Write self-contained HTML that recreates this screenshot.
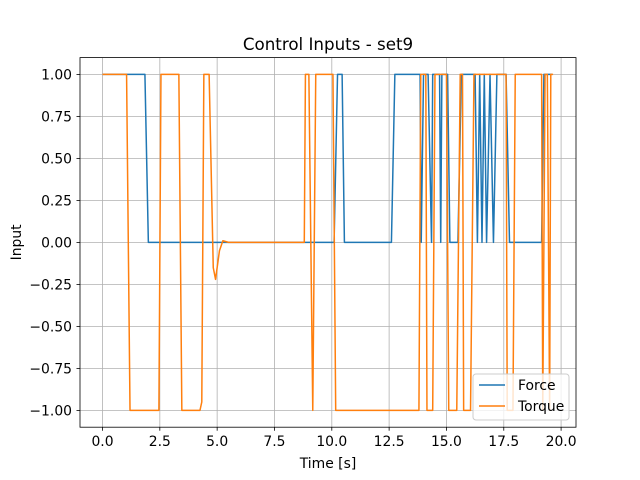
<!DOCTYPE html>
<html><head><meta charset="utf-8"><style>
body{margin:0;background:#fff;}
svg{display:block;font-family:"DejaVu Sans","Liberation Sans",sans-serif;}
</style></head><body>
<svg id="chart" width="640" height="480" xmlns="http://www.w3.org/2000/svg">
<rect width="640" height="480" fill="#fff"/>
<text x="328" y="50" text-anchor="middle" font-size="16.7">Control Inputs - set9</text>
<g id="grid"></g>
<g id="series"></g>
<rect x="80" y="57.6" width="496" height="369.6" fill="none" stroke="#000" stroke-width="0.8"/>
<g id="ticks"></g>
<text x="328" y="468" text-anchor="middle" font-size="13.9">Time [s]</text>
<text transform="translate(21,242.4) rotate(-90)" text-anchor="middle" font-size="13.9">Input</text>
<g>
<rect x="473" y="374" width="96" height="46" rx="3" fill="#fff" fill-opacity="0.8" stroke="#ccc"/>
<line x1="479" y1="385" x2="505" y2="385" stroke="#1f77b4" stroke-width="1.5"/>
<text x="518" y="390" font-size="13.9">Force</text>
<line x1="479" y1="406" x2="505" y2="406" stroke="#ff7f0e" stroke-width="1.5"/>
<text x="518" y="411" font-size="13.9">Torque</text>
</g>
</svg>
<script>
const xTicks=[0,2.5,5,7.5,10,12.5,15,17.5,20];
const xTickLabels=["0.0","2.5","5.0","7.5","10.0","12.5","15.0","17.5","20.0"];
const yTicks=[1,0.75,0.5,0.25,0,-0.25,-0.5,-0.75,-1];
const yTickLabels=["1.00","0.75","0.50","0.25","0.00","\u22120.25","\u22120.50","\u22120.75","\u22121.00"];
const forceT=[0,1.85,2.0,10.1,10.25,10.45,10.55,12.6,12.75,13.85,13.9,14.0,14.2,14.35,14.4,14.7,14.75,14.8,15.05,15.15,15.5,15.65,16.25,16.35,16.45,16.55,16.65,16.75,16.9,17.05,17.2,17.6,17.75,19.15,19.25,19.6];
const forceV=[1,1,0,0,1,1,0,0,1,1,0,1,1,0,1,1,0,1,1,0,0,1,1,0,1,0,1,0,1,0,1,1,0,0,1,1];
const torqueT=[0,1.05,1.2,2.46,2.55,3.33,3.46,4.25,4.33,4.42,4.65,4.83,4.93,5.1,5.25,5.5,8.8,8.85,9.0,9.17,9.3,10.05,10.17,13.8,13.88,14.1,14.15,14.4,14.5,15.0,15.1,15.45,15.6,15.7,15.75,16.05,16.2,17.6,17.65,17.9,18.0,19.15,19.2,19.3,19.4,19.5,19.55,19.65];
const torqueV=[1,1,-1,-1,1,1,-1,-1,-0.95,1,1,-0.15,-0.22,-0.05,0.01,0,0,1,1,-1,1,1,-1,-1,1,1,-1,-1,1,1,-1,-1,1,1,-1,-1,1,1,-1,-1,1,1,-1,1,1,-1,1,1];
const NS="http://www.w3.org/2000/svg";
const X=t=>102.5+t*22.93;
const Y=v=>57.6+(1.1-v)/2.2*369.6;
const grid=document.getElementById('grid'),ticks=document.getElementById('ticks'),series=document.getElementById('series');
function mk(tag,attrs,parent){const e=document.createElementNS(NS,tag);for(const k in attrs)e.setAttribute(k,attrs[k]);parent.appendChild(e);return e;}
xTicks.forEach((t,i)=>{
 const g=mk('line',{x1:X(t),x2:X(t),y1:57.6,y2:427.2,stroke:'#b0b0b0','stroke-width':0.8},grid);
 
 
 const tk=mk('line',{x1:X(t),x2:X(t),y1:427.2,y2:430.7,stroke:'#000','stroke-width':0.8},ticks);
 
 
 const l=mk('text',{x:X(t),y:446,'text-anchor':'middle','font-size':13.9},ticks);l.textContent=xTickLabels[i];
 
 
});
yTicks.forEach((v,i)=>{
 const g=mk('line',{x1:80,x2:576,y1:Y(v),y2:Y(v),stroke:'#b0b0b0','stroke-width':0.8},grid);
 
 
 const tk=mk('line',{x1:76.5,x2:80,y1:Y(v),y2:Y(v),stroke:'#000','stroke-width':0.8},ticks);
 
 
 const l=mk('text',{x:72,y:Y(v)+5,'text-anchor':'end','font-size':13.9},ticks);l.textContent=yTickLabels[i];
 
 
});
function line(ts,vs,color,name){
 const p=mk('polyline',{points:ts.map((t,i)=>X(t)+','+Y(vs[i])).join(' '),fill:'none',stroke:color,'stroke-width':1.5,'stroke-linejoin':'round'},series);
 
 
}
line(forceT,forceV,'#1f77b4','force-line');
line(torqueT,torqueV,'#ff7f0e','torque-line');
</script>
</body></html>
